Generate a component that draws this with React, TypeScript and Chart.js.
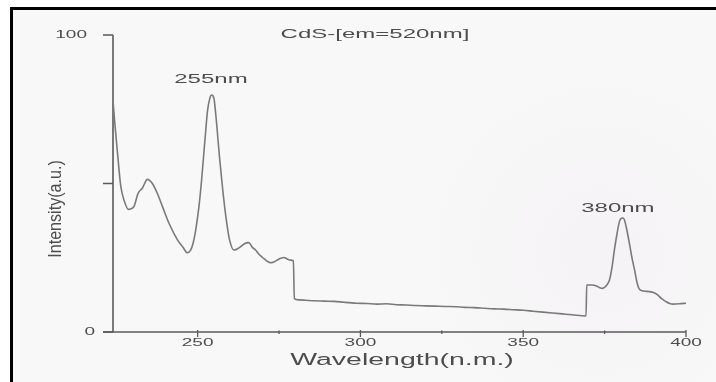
import React, { useEffect, useRef } from "react";
import { Chart, registerables } from "chart.js";

Chart.register(...registerables);

// ---- data ----
const wavelengths: number[] = [
  224, 224.5, 225.4, 226.4, 227.5, 228.7, 229.5, 230.5, 231.7, 233, 234.6, 235.3, 236.1, 237.6, 239.2, 241.2,
  243.8, 245.5, 246.8, 247.8, 248.6, 249.5, 250.4, 251.2, 251.9, 252.5, 253, 253.7, 254.3, 255, 255.5, 256,
  256.7, 257.4, 258.2, 259.1, 259.8, 261.1, 262.2, 263.2, 264.5, 265.7, 266.8, 267.8, 269, 270.3, 271.4,
  272.4, 273.4, 274.4, 275.5, 276.5, 277.5, 278.5, 279.4, 279.7, 281, 283, 285.7, 289, 292, 295, 298.8, 302,
  305, 308, 311, 314, 317, 320, 323, 326, 329.4, 332, 335, 338, 341, 344, 347, 350, 353, 356, 359, 362, 365,
  369.3, 369.5, 371, 372.5, 373.5, 374.4, 375.5, 376.5, 377.3, 378, 378.8, 379.5, 380.1, 380.7, 381.1, 381.8,
  382.6, 383.4, 384.2, 385, 385.7, 387, 388.8, 390.2, 391.3, 392.5, 393.9, 395, 396, 398, 400,
];
const intensity: number[] = [
  78, 71, 60, 49, 44, 41.3, 41.5, 42.4, 46.7, 48.4, 51.4, 51, 50, 46.7, 42.2, 36.6,
  31, 28.5, 26.7, 27.5, 29.9, 35, 42.2, 51, 60.2, 68, 74.2, 78.5, 79.8, 78.7, 74, 68,
  59, 51.2, 43, 35.5, 31, 27.6, 28, 28.7, 29.8, 30.1, 28.5, 27.6, 26, 24.8, 23.8,
  23.3, 23.6, 24.2, 24.8, 25.1, 24.6, 24.2, 24, 11.2, 10.8, 10.7, 10.5, 10.4, 10.3, 10.0, 9.7, 9.6,
  9.4, 9.5, 9.2, 9.1, 8.9, 8.8, 8.7, 8.6, 8.5, 8.3, 8.2, 8.0, 7.8, 7.7, 7.5, 7.3, 7.0, 6.7, 6.4, 6.1, 5.8,
  5.4, 15.8, 15.8, 15.5, 14.9, 14.7, 15.6, 17.5, 22, 27.6, 33, 37, 38.3, 38.4, 37.7, 34.5,
  29.9, 25, 20.9, 16.5, 14.4, 13.8, 13.6, 13.2, 12.5, 11.2, 10.2, 9.6, 9.4, 9.5, 9.7,
];
const xMajorTicks: number[] = [250, 300, 350, 400];
const xMinorTicks: number[] = [275, 325, 375];
const yTicks: number[] = [0, 50, 100];
const yTickLabels: string[] = ["0", "", "100"];
const titleText = "CdS-[em=520nm]";
const xTitle = "Wavelength(n.m.)";
const yTitle = "Intensity(a.u.)";
const peakLabels: { x: number; y: number; text: string }[] = [
  { x: 255, y: 85, text: "255nm" },
  { x: 380, y: 41.5, text: "380nm" },
];

const FONT = "'Liberation Sans', Arial, sans-serif";
const TEXT_COLOR = "#4d4d4d";

function stretchedText(
  ctx: CanvasRenderingContext2D,
  text: string,
  x: number,
  y: number,
  size: number,
  sx: number,
  align: CanvasTextAlign = "center"
) {
  ctx.save();
  ctx.translate(x, y);
  ctx.scale(sx, 1);
  ctx.font = `${size}px ${FONT}`;
  ctx.fillStyle = TEXT_COLOR;
  ctx.textAlign = align;
  ctx.textBaseline = "middle";
  ctx.fillText(text, 0, 0);
  ctx.restore();
}

const decorPlugin = {
  id: "decor",
  beforeDraw(chart: any) {
    const ctx: CanvasRenderingContext2D = chart.ctx;
    const W = chart.width;
    const H = chart.height;
    ctx.save();
    ctx.fillStyle = "#ffffff";
    ctx.fillRect(0, 0, W, H);
    ctx.fillStyle = "#f8f8f8";
    ctx.fillRect(10, 7, W - 10, H - 7);
    const g = ctx.createRadialGradient(600, 250, 10, 600, 250, 170);
    g.addColorStop(0, "rgba(242,236,242,0.45)");
    g.addColorStop(1, "rgba(242,236,242,0)");
    ctx.fillStyle = g;
    ctx.fillRect(10, 7, W - 10, H - 7);
    // black frame (left + top)
    ctx.fillStyle = "#000000";
    ctx.fillRect(10, 7, 3, H - 7);
    ctx.fillRect(10, 7, W - 10, 3);
    ctx.restore();
  },
  beforeDatasetsDraw(chart: any) {
    const ctx: CanvasRenderingContext2D = chart.ctx;
    const xs = chart.scales.x;
    const ys = chart.scales.y;
    const x0 = xs.getPixelForValue(xs.min);
    const x1 = xs.getPixelForValue(xs.max);
    const y0 = ys.getPixelForValue(0);
    const y1 = ys.getPixelForValue(100);
    ctx.save();
    ctx.strokeStyle = "#5a5a5a";
    ctx.lineWidth = 1.6;
    ctx.beginPath();
    ctx.moveTo(x0, y1);
    ctx.lineTo(x0, y0);
    ctx.moveTo(x0 - 10, y0);
    ctx.lineTo(x1, y0);
    ctx.stroke();
    ctx.lineWidth = 1.3;
    ctx.beginPath();
    for (const v of yTicks) {
      const py = ys.getPixelForValue(v);
      ctx.moveTo(x0 - 10, py);
      ctx.lineTo(x0, py);
    }
    for (const v of xMajorTicks) {
      const px = xs.getPixelForValue(v);
      ctx.moveTo(px, y0 - 2);
      ctx.lineTo(px, y0 + 5);
    }
    for (const v of xMinorTicks) {
      const px = xs.getPixelForValue(v);
      ctx.moveTo(px, y0 - 1.5);
      ctx.lineTo(px, y0 + 2);
    }
    ctx.stroke();
    ctx.restore();
  },
  afterDraw(chart: any) {
    const ctx: CanvasRenderingContext2D = chart.ctx;
    const xs = chart.scales.x;
    const ys = chart.scales.y;
    const x0 = xs.getPixelForValue(xs.min);
    const y0 = ys.getPixelForValue(0);
    yTicks.forEach((v, i) => {
      const label = yTickLabels[i];
      if (!label) return;
      const off = label.length === 1 ? 18 : 26;
      stretchedText(ctx, label, x0 - off, ys.getPixelForValue(v) + 0.5, 10, 1.9, "right");
    });
    for (const v of xMajorTicks) {
      stretchedText(ctx, String(v), xs.getPixelForValue(v), y0 + 11, 10, 1.9);
    }
    stretchedText(ctx, titleText, 375, ys.getPixelForValue(100) - 0.5, 12, 2.0);
    for (const p of peakLabels) {
      stretchedText(ctx, p.text, xs.getPixelForValue(p.x) - 3, ys.getPixelForValue(p.y), 12, 2.0);
    }
    stretchedText(ctx, xTitle, 402, 361, 16, 1.78);
    // rotated y title
    ctx.save();
    ctx.translate(56, 209);
    ctx.rotate(-Math.PI / 2);
    ctx.scale(1.15, 1.35);
    ctx.font = `14px ${FONT}`;
    ctx.fillStyle = TEXT_COLOR;
    ctx.textAlign = "center";
    ctx.textBaseline = "middle";
    ctx.fillText(yTitle, 0, 0);
    ctx.restore();
  },
};

export default function App() {
  const ref = useRef<HTMLCanvasElement | null>(null);
  useEffect(() => {
    if (!ref.current) return;
    const chart = new Chart(ref.current, {
      type: "line",
      data: {
        datasets: [
          {
            data: wavelengths.map((w, i) => ({ x: w, y: intensity[i] })),
            borderColor: "#7a7a7a",
            borderWidth: 1.6,
            pointRadius: 0,
            fill: false,
            cubicInterpolationMode: "monotone",
          },
        ],
      },
      options: {
        animation: false,
        responsive: false,
        devicePixelRatio: 1,
        layout: { padding: { left: 113, right: 30, top: 35, bottom: 50 } },
        plugins: { legend: { display: false }, tooltip: { enabled: false }, title: { display: false } },
        scales: {
          x: { type: "linear", min: 224, max: 400, display: false },
          y: { type: "linear", min: 0, max: 100, display: false },
        },
      },
      plugins: [decorPlugin],
    } as any);
    return () => chart.destroy();
  }, []);
  return (
    <div style={{ position: "absolute", left: 0, top: 0, width: 716, height: 382 }}>
      <canvas ref={ref} width={716} height={382} style={{ display: "block" }} />
    </div>
  );
}
